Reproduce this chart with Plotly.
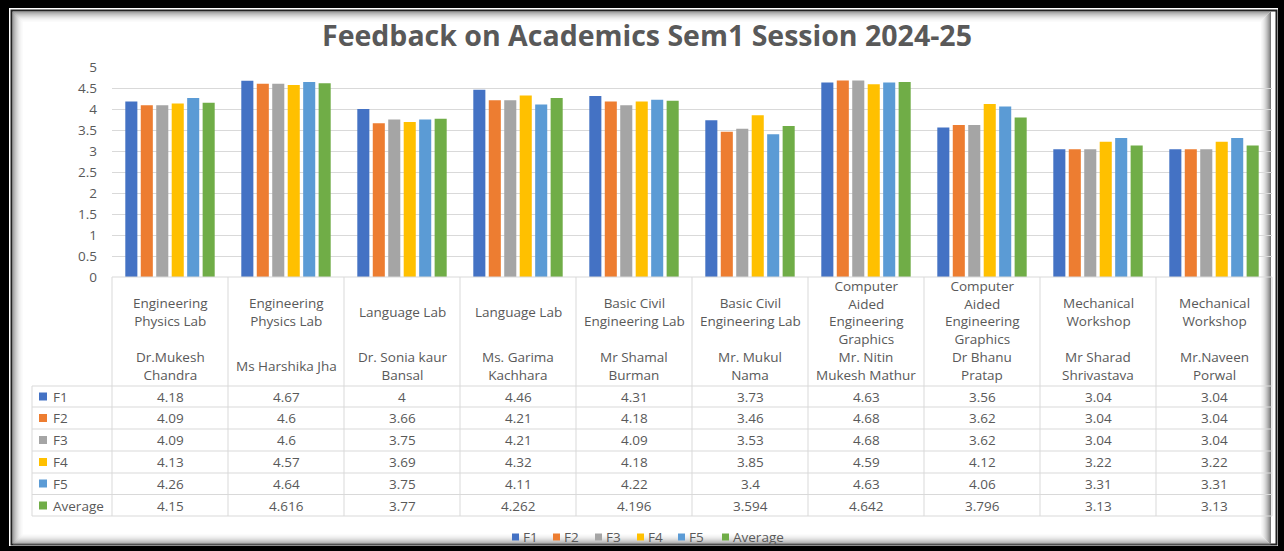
import plotly.graph_objects as go

W, H = 1284, 551

courses = [
    "Engineering<br>Physics Lab", "Engineering<br>Physics Lab",
    "Language Lab", "Language Lab",
    "Basic Civil<br>Engineering Lab", "Basic Civil<br>Engineering Lab",
    "Computer<br>Aided<br>Engineering<br>Graphics", "Computer<br>Aided<br>Engineering<br>Graphics",
    "Mechanical<br>Workshop", "Mechanical<br>Workshop",
]
faculty = [
    "Dr.Mukesh<br>Chandra", "Ms Harshika Jha",
    "Dr. Sonia kaur<br>Bansal", "Ms. Garima<br>Kachhara",
    "Mr Shamal<br>Burman", "Mr. Mukul<br>Nama",
    "Mr. Nitin<br>Mukesh Mathur", "Dr Bhanu<br>Pratap",
    "Mr Sharad<br>Shrivastava", "Mr.Naveen<br>Porwal",
]
series_names = ["F1", "F2", "F3", "F4", "F5", "Average"]
F1 = [4.18, 4.67, 4, 4.46, 4.31, 3.73, 4.63, 3.56, 3.04, 3.04]
F2 = [4.09, 4.6, 3.66, 4.21, 4.18, 3.46, 4.68, 3.62, 3.04, 3.04]
F3 = [4.09, 4.6, 3.75, 4.21, 4.09, 3.53, 4.68, 3.62, 3.04, 3.04]
F4 = [4.13, 4.57, 3.69, 4.32, 4.18, 3.85, 4.59, 4.12, 3.22, 3.22]
F5 = [4.26, 4.64, 3.75, 4.11, 4.22, 3.4, 4.63, 4.06, 3.31, 3.31]
Average = [4.15, 4.616, 3.77, 4.262, 4.196, 3.594, 4.642, 3.796, 3.13, 3.13]
series_values = [F1, F2, F3, F4, F5, Average]
colors = ["#4472C4", "#ED7D31", "#A5A5A5", "#FFC000", "#5B9BD5", "#70AD47"]
title_text = "Feedback on Academics Sem1 Session 2024-25"

categories = [c + "<br><br>" + f for c, f in zip(courses, faculty)]


def px(x):
    return x / W


def py(y):
    return 1 - y / H


TXT = "#595959"
GRID = "#D9D9D9"
FONT = "Open Sans"

fig = go.Figure()
for name, vals, col in zip(series_names, series_values, colors):
    fig.add_trace(go.Bar(x=categories, y=vals, name=name, marker=dict(color=col, line=dict(width=0)),
                         showlegend=False))

shapes = []
# frame
shapes.append(dict(type="rect", xref="paper", yref="paper", x0=px(9), x1=px(1278), y0=py(546), y1=py(8),
                   fillcolor="white", line=dict(width=0), layer="below"))
shapes.append(dict(type="rect", xref="paper", yref="paper", x0=px(11.5), x1=px(1276.5), y0=py(544.5), y1=py(10.5),
                   fillcolor="rgba(0,0,0,0)", line=dict(color="#222222", width=2), layer="below"))
grads = ["#7a7a7a", "#909090", "#a4a4a4", "#b6b6b6", "#c6c6c6", "#d4d4d4", "#e0e0e0", "#eaeaea", "#f2f2f2", "#f8f8f8"]
for i, gc in enumerate(grads):
    d = 13 + i
    shapes.append(dict(type="rect", xref="paper", yref="paper", x0=px(d), x1=px(W - 1 - d + 0.5),
                       y0=py(H - 6 - (d - 12)), y1=py(d - 1),
                       fillcolor="rgba(0,0,0,0)", line=dict(color=gc, width=1), layer="below"))

# table lines
row_lines = [386, 407, 429, 451, 473, 494.5, 516]
shapes.append(dict(type="line", xref="paper", yref="paper", x0=px(112), x1=px(1272), y0=py(277), y1=py(277),
                   line=dict(color=GRID, width=1)))
for yl in row_lines:
    shapes.append(dict(type="line", xref="paper", yref="paper", x0=px(32), x1=px(1272), y0=py(yl), y1=py(yl),
                       line=dict(color=GRID, width=1)))
for k in range(11):
    xl = 112 + 116 * k
    shapes.append(dict(type="line", xref="paper", yref="paper", x0=px(xl), x1=px(xl), y0=py(277), y1=py(516),
                       line=dict(color=GRID, width=1)))
shapes.append(dict(type="line", xref="paper", yref="paper", x0=px(32), x1=px(32), y0=py(386), y1=py(516),
                   line=dict(color=GRID, width=1)))

annotations = []
annotations.append(dict(text=title_text, x=px(647), y=py(35), xref="paper", yref="paper", showarrow=False,
                        xanchor="center", yanchor="middle",
                        font=dict(family=FONT, size=28.5, color=TXT, weight="bold")))

for cat, c, f in zip(categories, courses, faculty):
    annotations.append(dict(text=c, x=cat, xref="x", y=py(312), yref="paper", showarrow=False,
                            xanchor="center", yanchor="middle", align="center",
                            font=dict(family=FONT, size=13.5, color=TXT)))
    annotations.append(dict(text=f, x=cat, xref="x", y=py(366), yref="paper", showarrow=False,
                            xanchor="center", yanchor="middle", align="center",
                            font=dict(family=FONT, size=13.5, color=TXT)))

row_centers = [396.5, 418, 440, 462, 483.5, 505.5]
for name, vals, col, yc in zip(series_names, series_values, colors, row_centers):
    shapes.append(dict(type="rect", xref="paper", yref="paper", x0=px(39), x1=px(47), y0=py(yc + 4), y1=py(yc - 4),
                       fillcolor=col, line=dict(width=0)))
    annotations.append(dict(text=name, x=px(51), y=py(yc), xref="paper", yref="paper", showarrow=False,
                            xanchor="left", yanchor="middle", font=dict(family=FONT, size=13.5, color=TXT)))
    for cat, v in zip(categories, vals):
        annotations.append(dict(text=f"{v:g}", x=cat, xref="x", y=py(yc), yref="paper", showarrow=False,
                                xanchor="center", yanchor="middle", font=dict(family=FONT, size=13.5, color=TXT)))

# bottom legend
leg_x = [512, 553, 595, 637, 678, 722]
for name, col, lx in zip(series_names, colors, leg_x):
    shapes.append(dict(type="rect", xref="paper", yref="paper", x0=px(lx), x1=px(lx + 7), y0=py(540.5), y1=py(533.5),
                       fillcolor=col, line=dict(width=0)))
    annotations.append(dict(text=name, x=px(lx + 9), y=py(537), xref="paper", yref="paper", showarrow=False,
                            xanchor="left", yanchor="middle", font=dict(family=FONT, size=13.5, color=TXT)))

fig.update_layout(
    width=W, height=H,
    margin=dict(l=0, r=0, t=0, b=0, pad=0, autoexpand=False),
    paper_bgcolor="black",
    plot_bgcolor="rgba(0,0,0,0)",
    barmode="group",
    bargap=0.2,
    bargroupgap=0.22,
    showlegend=False,
    shapes=shapes,
    annotations=annotations,
    xaxis=dict(domain=[px(112), px(1272)], showticklabels=False, showgrid=False, zeroline=False,
               showline=False, ticks="", fixedrange=True, automargin=False),
    yaxis=dict(domain=[py(277), py(67)], range=[0, 5], dtick=0.5, showgrid=True, gridcolor=GRID, gridwidth=1,
               zeroline=False, showline=False, ticks="", ticklabelstandoff=14, automargin=False,
               tickfont=dict(family=FONT, size=13.5, color=TXT), fixedrange=True),
)

fig.write_html("out.html", config={"displayModeBar": False},
               post_script="document.body.style.margin='0';document.body.style.overflow='hidden';")
